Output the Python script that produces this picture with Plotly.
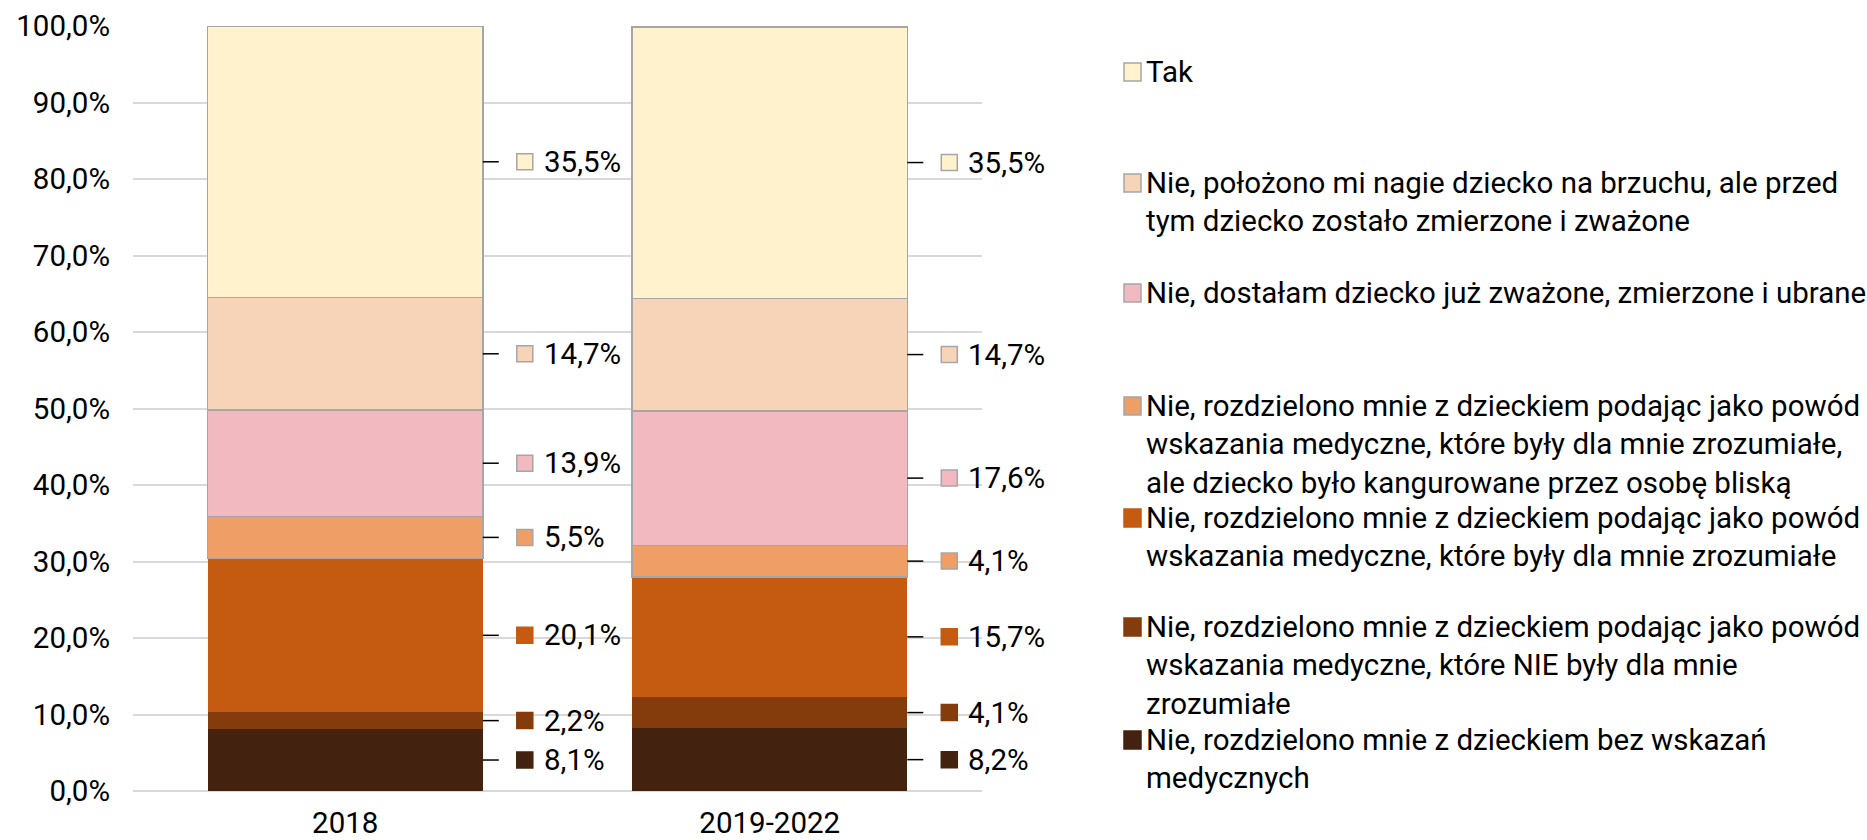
import plotly.graph_objects as go

# ---------------- data ----------------
categories = ["2018", "2019-2022"]
series_names = [
    "Nie, rozdzielono mnie z dzieckiem bez wskazań medycznych",
    "Nie, rozdzielono mnie z dzieckiem podając jako powód wskazania medyczne, które NIE były dla mnie zrozumiałe",
    "Nie, rozdzielono mnie z dzieckiem podając jako powód wskazania medyczne, które były dla mnie zrozumiałe",
    "Nie, rozdzielono mnie z dzieckiem podając jako powód wskazania medyczne, które były dla mnie zrozumiałe, ale dziecko było kangurowane przez osobę bliską",
    "Nie, dostałam dziecko już zważone, zmierzone i ubrane",
    "Nie, położono mi nagie dziecko na brzuchu, ale przed tym dziecko zostało zmierzone i zważone",
    "Tak",
]
legend_texts = [
    "Nie, rozdzielono mnie z dzieckiem bez wskazań<br>medycznych",
    "Nie, rozdzielono mnie z dzieckiem podając jako powód<br>wskazania medyczne, które NIE były dla mnie<br>zrozumiałe",
    "Nie, rozdzielono mnie z dzieckiem podając jako powód<br>wskazania medyczne, które były dla mnie zrozumiałe",
    "Nie, rozdzielono mnie z dzieckiem podając jako powód<br>wskazania medyczne, które były dla mnie zrozumiałe,<br>ale dziecko było kangurowane przez osobę bliską",
    "Nie, dostałam dziecko już zważone, zmierzone i ubrane",
    "Nie, położono mi nagie dziecko na brzuchu, ale przed<br>tym dziecko zostało zmierzone i zważone",
    "Tak",
]
values_2018 = [8.1, 2.2, 20.1, 5.5, 13.9, 14.7, 35.5]
values_2019_2022 = [8.2, 4.1, 15.7, 4.1, 17.6, 14.7, 35.5]
colors = ["#43230F", "#843C0C", "#C55A11", "#EF9F66", "#F2B9C1", "#F7D3B8", "#FFF2CC"]
outlined = [False, False, False, True, True, True, True]
y_ticks = [0, 10, 20, 30, 40, 50, 60, 70, 80, 90, 100]
y_tick_labels = ["0,0%", "10,0%", "20,0%", "30,0%", "40,0%", "50,0%",
                 "60,0%", "70,0%", "80,0%", "90,0%", "100,0%"]

# ---------------- layout geometry ----------------
W, H = 1867, 840
ML, MR, MT, MB = 133, 885, 26, 49
PLOT_H = H - MT - MB
BAR_W = 0.648
FONT = "Roboto"
FS = 29.5
GRAY = "#A6A6A6"

def fmt(v):
    return f"{v:.1f}%".replace(".", ",")

def py2paper(py):
    return (H - MB - py) / PLOT_H

fig = go.Figure()
xs = list(range(len(categories)))
all_vals = [values_2018, values_2019_2022]

for i, name in enumerate(series_names):
    vals = [values_2018[i], values_2019_2022[i]]
    fig.add_trace(go.Bar(
        x=xs, y=vals, name=name, width=BAR_W,
        marker=dict(color=colors[i],
                    line=dict(color=GRAY if outlined[i] else colors[i],
                              width=1.5 if outlined[i] else 0)),
        showlegend=False, hoverinfo="skip",
    ))

shapes = []
annotations = []
# data labels with leader lines and legend keys
for c, vals in enumerate(all_vals):
    edge = xs[c] + BAR_W / 2
    base = 0.0
    for i, v in enumerate(vals):
        mid = base + v / 2
        base += v
        shapes.append(dict(type="line", xref="x", yref="y", xsizemode="pixel",
                           xanchor=edge, x0=0, x1=16, y0=mid, y1=mid,
                           line=dict(color="black", width=1.5)))
        shapes.append(dict(type="rect", xref="x", yref="y",
                           xsizemode="pixel", ysizemode="pixel",
                           xanchor=edge, yanchor=mid,
                           x0=34, x1=50, y0=-8, y1=8,
                           fillcolor=colors[i],
                           line=dict(color=GRAY if outlined[i] else colors[i], width=1.5)))
        annotations.append(dict(x=edge, y=mid, xref="x", yref="y", xanchor="left",
                                yanchor="middle", xshift=59, showarrow=False,
                                text=fmt(v), font=dict(family=FONT, size=FS, color="black")))

# custom legend (top to bottom)
legend_first_line_y = [757 - 17, 662 - 35, 535 - 17, 441 - 35, 293, 200 - 17, 72]
LEG_X = (1124 - ML) / (W - ML - MR)
for i in range(len(series_names)):
    yc = py2paper(legend_first_line_y[i])
    shapes.append(dict(type="rect", xref="paper", yref="paper",
                       xsizemode="pixel", ysizemode="pixel",
                       xanchor=LEG_X, yanchor=yc, x0=0, x1=17, y0=-9, y1=9,
                       fillcolor=colors[i],
                       line=dict(color=GRAY if outlined[i] else colors[i], width=1.5)))
    annotations.append(dict(x=LEG_X, y=py2paper(legend_first_line_y[i] - 19),
                            xref="paper", yref="paper", xanchor="left", yanchor="top",
                            xshift=20, showarrow=False, align="left",
                            text=legend_texts[i],
                            font=dict(family=FONT, size=FS, color="black")))

fig.update_layout(
    barmode="stack",
    width=W, height=H,
    margin=dict(l=ML, r=MR, t=MT, b=MB, autoexpand=False),
    paper_bgcolor="white", plot_bgcolor="white",
    font=dict(family=FONT, size=FS, color="black"),
    shapes=shapes, annotations=annotations,
    showlegend=False,
)
fig.update_xaxes(range=[-0.5, 1.5], tickvals=xs, ticktext=categories,
                 showgrid=False, zeroline=False, showline=False,
                 ticks="", ticklabelstandoff=11,
                 tickfont=dict(family=FONT, size=FS, color="black"))
fig.update_yaxes(range=[0, 100], tickvals=y_ticks, ticktext=y_tick_labels,
                 showgrid=True, gridcolor="#D9D9D9", gridwidth=1.5,
                 zeroline=True, zerolinecolor="#D9D9D9", zerolinewidth=1.5,
                 showline=False, ticks="", ticklabelstandoff=22,
                 tickfont=dict(family=FONT, size=FS, color="black"))

fig.write_html("out.html", config={"displayModeBar": False},
               post_script="document.body.style.margin='0';document.body.style.overflow='hidden';")
